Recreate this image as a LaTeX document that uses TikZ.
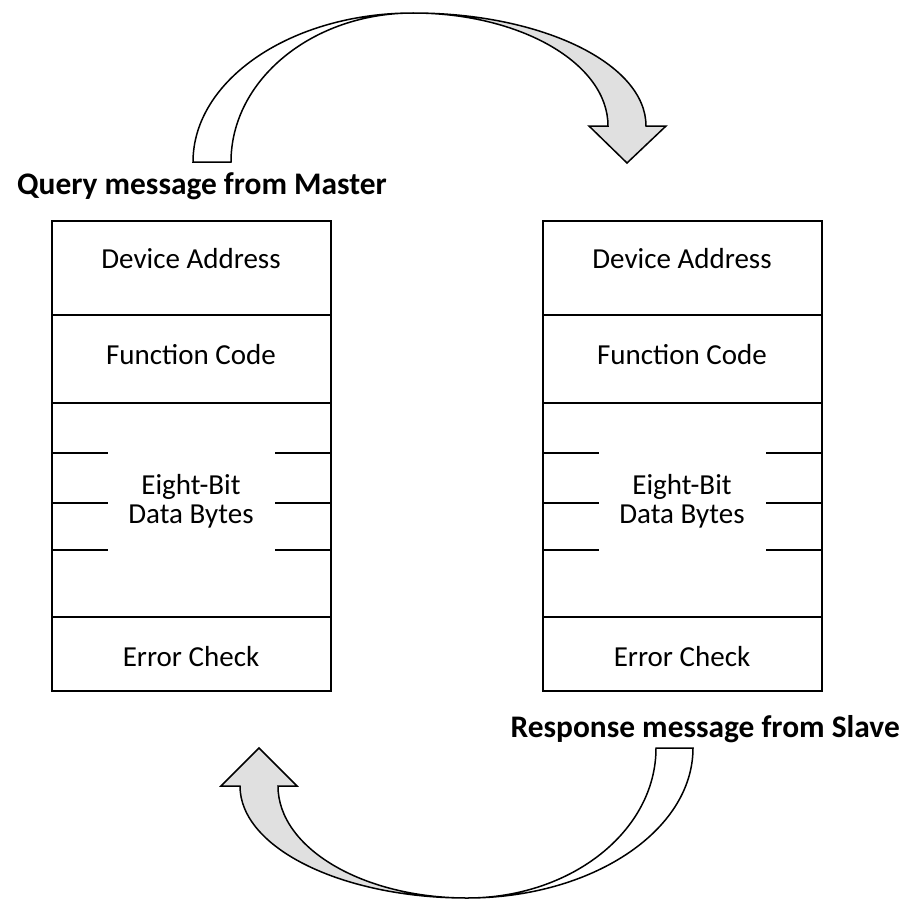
\documentclass[tikz,border=0pt]{standalone}
\usepackage{fontspec}
\setmainfont{Carlito}
\usetikzlibrary{positioning}
\definecolor{bandgray}{rgb}{0.88,0.88,0.88}
\tikzset{
    cell/.style={draw, line width=2pt, minimum width=279pt, inner sep=0pt, outer sep=0pt}, % one field of a frame
    field text/.style={font=\fontsize{29}{35}\selectfont, anchor=base, inner sep=0pt},
    frame title/.style={font=\fontsize{31.4}{38}\selectfont\bfseries, inner sep=0pt},
    band/.style={draw, line width=1.5pt, line join=miter}, % curved block arrows
    byte mark/.style={line width=2pt},
}

\begin{document}
\begin{tikzpicture}[x=1pt, y=-1pt]
    \useasboundingbox (0,0) rectangle (904,899);

    % query frame
    \node[cell, minimum height=94pt] (qaddr) at (191,268) {};
    \node[cell, minimum height=88pt, below=0pt of qaddr] (qfunc) {};
    \node[cell, minimum height=214pt, below=0pt of qfunc] (qdata) {};
    \node[cell, minimum height=74pt, below=0pt of qdata] (qcrc) {};

    % response frame
    \node[cell, minimum height=94pt] (raddr) at (682,268) {};
    \node[cell, minimum height=88pt, below=0pt of raddr] (rfunc) {};
    \node[cell, minimum height=214pt, below=0pt of rfunc] (rdata) {};
    \node[cell, minimum height=74pt, below=0pt of rdata] (rcrc) {};

    % field names
    \node[field text] (qaddrtext) at (191,268) {Device Address};
    \node[field text] (qfunctext) at (191,364) {Function Code};
    \node[field text] (qdatatext) at (191,494) {Eight-Bit};
    \node[field text] (qdatatextb) at (191,523) {Data Bytes};
    \node[field text] (qcrctext) at (191,666) {Error Check};

    \node[field text] (raddrtext) at (682,268) {Device Address};
    \node[field text] (rfunctext) at (682,364) {Function Code};
    \node[field text] (rdatatext) at (682,494) {Eight-Bit};
    \node[field text] (rdatatextb) at (682,523) {Data Bytes};
    \node[field text] (rcrctext) at (682,666) {Error Check};

    % byte separators in the data field
    \foreach \d in {qdata, rdata}
        \foreach \y in {453, 503, 550} {
            \draw[byte mark] (\d.west |- 0,\y) -- ++(56,0);
            \draw[byte mark] (\d.east |- 0,\y) -- ++(-56,0);
        }

    % titles
    \node[frame title, anchor=base west] (querytitle) at (17,194) {Query message from Master};
    \node[frame title, anchor=base east] (responsetitle) at (900,737) {Response message from Slave};

    % upper arrow, master -> slave
    \draw[band, fill=white] (193,162)
        arc[start angle=180, end angle=90, x radius=220pt, y radius=149pt]
        arc[start angle=90, end angle=180, x radius=182pt, y radius=149pt] -- cycle;
    \draw[band, fill=bandgray] (413,13)
        arc[start angle=90, end angle=0, x radius=233pt, y radius=113pt]
        -- (666,126) -- (627,163) -- (589,126) -- (608,126)
        arc[start angle=0, end angle=90, x radius=195pt, y radius=113pt] -- cycle;

    % lower arrow, slave -> master
    \draw[band, fill=white] (693,748)
        arc[start angle=0, end angle=-90, x radius=226pt, y radius=150pt]
        arc[start angle=-90, end angle=0, x radius=189pt, y radius=150pt] -- cycle;
    \draw[band, fill=bandgray] (467,898)
        arc[start angle=-90, end angle=-180, x radius=227pt, y radius=112pt]
        -- (221,786) -- (259,748) -- (297,786) -- (278,786)
        arc[start angle=180, end angle=270, x radius=189pt, y radius=112pt] -- cycle;
\end{tikzpicture}
\end{document}
